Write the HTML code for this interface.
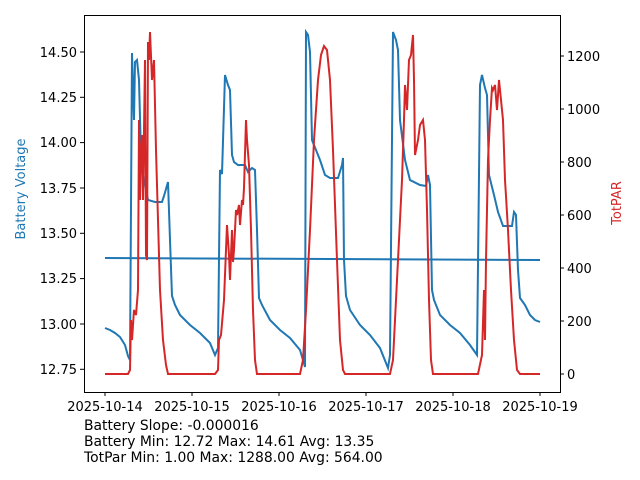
<!DOCTYPE html><html><head><style>body{margin:0;background:#fff}svg{display:block;font-family:"DejaVu Sans","Liberation Sans",sans-serif}</style></head><body>
<svg width="640" height="480" xmlns="http://www.w3.org/2000/svg">
<rect x="84.5" y="15.5" width="476" height="377" fill="none" stroke="#000" stroke-width="1"/>
<g font-size="13" fill="#000">
<g stroke="#000">
<line x1="80" y1="52" x2="84" y2="52"/><line x1="80" y1="97.3" x2="84" y2="97.3"/><line x1="80" y1="142.6" x2="84" y2="142.6"/><line x1="80" y1="188" x2="84" y2="188"/><line x1="80" y1="233.3" x2="84" y2="233.3"/><line x1="80" y1="278.6" x2="84" y2="278.6"/><line x1="80" y1="324" x2="84" y2="324"/><line x1="80" y1="369.3" x2="84" y2="369.3"/>
<line x1="560" y1="56" x2="564" y2="56"/><line x1="560" y1="109" x2="564" y2="109"/><line x1="560" y1="162" x2="564" y2="162"/><line x1="560" y1="215" x2="564" y2="215"/><line x1="560" y1="268" x2="564" y2="268"/><line x1="560" y1="321" x2="564" y2="321"/><line x1="560" y1="374" x2="564" y2="374"/>
<line x1="105" y1="392" x2="105" y2="396"/><line x1="192" y1="392" x2="192" y2="396"/><line x1="279" y1="392" x2="279" y2="396"/><line x1="366" y1="392" x2="366" y2="396"/><line x1="453" y1="392" x2="453" y2="396"/><line x1="540" y1="392" x2="540" y2="396"/>
</g>
<g text-anchor="end"><text x="77" y="57">14.50</text><text x="77" y="102">14.25</text><text x="77" y="147">14.00</text><text x="77" y="193">13.75</text><text x="77" y="238">13.50</text><text x="77" y="283">13.25</text><text x="77" y="329">13.00</text><text x="77" y="374">12.75</text></g>
<g><text x="567" y="61">1200</text><text x="567" y="114">1000</text><text x="567" y="167">800</text><text x="567" y="220">600</text><text x="567" y="273">400</text><text x="567" y="326">200</text><text x="567" y="379">0</text></g>
<g text-anchor="middle"><text x="105" y="411">2025-10-14</text><text x="192" y="411">2025-10-15</text><text x="279" y="411">2025-10-16</text><text x="366" y="411">2025-10-17</text><text x="453" y="411">2025-10-18</text><text x="540" y="411">2025-10-19</text></g>
<text transform="translate(25,189) rotate(-90)" text-anchor="middle" fill="#1f77b4">Battery Voltage</text>
<text transform="translate(621,203) rotate(-90)" text-anchor="middle" fill="#d62728">TotPAR</text>
<g font-size="13.9">
<text x="84" y="430">Battery Slope: -0.000016</text>
<text x="84" y="446">Battery Min: 12.72 Max: 14.61 Avg: 13.35</text>
<text x="84" y="462">TotPar Min: 1.00 Max: 1288.00 Avg: 564.00</text>
</g>
</g>
<line x1="105" y1="258" x2="540" y2="260" stroke="#1f77b4" stroke-width="2"/>
<polyline fill="none" stroke="#1f77b4" stroke-width="2" points="105,328 110,330 115,333 120,337 125,345 128,356 130,360 132,53 134,120 135,62 137,60 139,80 141,155 143,175 146,190 148,200 155,202 162,202 164,196 168,182 170,240 172,296 175,305 180,315 190,325 200,333 210,343 215,355 218,348 220,170 222,174 225,75 228,85 230,90 232,155 234,162 238,165 245,165 248,172 252,168 255,170 257,230 259,298 262,305 270,320 280,330 290,338 300,350 305,367 306,32 308,35 310,52 312,140 316,150 320,160 325,175 330,178 338,178 342,165 343,158 344,260 346,296 350,310 360,325 370,335 380,348 388,368 390,355 393,32 396,40 398,50 400,120 405,160 410,180 420,185 426,186 428,175 430,185 432,290 434,300 440,315 450,325 460,333 470,345 477,355 480,85 482,75 485,88 487,95 489,175 494,195 498,212 503,226 512,226 514,212 516,215 518,270 520,298 525,305 530,315 535,320 540,322"/>
<polyline fill="none" stroke="#d62728" stroke-width="2" points="105,374 128,374 130,370 131,320 132,340 134,310 136,315 138,290 139,120 140,200 141,150 142,135 143,200 145,60 146,255 147,260 148,42 149,60 150,32 152,80 154,60 156,150 158,220 160,290 163,340 166,365 168,374 215,374 218,370 219,340 221,335 224,300 227,225 229,255 230,280 232,230 233,262 234,250 236,210 237,215 239,205 240,225 242,200 243,205 244,188 246,120 247,140 249,165 251,230 253,310 255,360 257,374 300,374 303,360 306,310 310,230 314,140 318,80 321,55 324,46 327,50 330,80 333,150 337,260 340,340 343,370 345,374 390,374 393,360 396,300 399,240 402,180 404,120 405,85 407,110 409,60 411,55 413,35 414,80 415,155 418,140 420,125 423,120 425,140 427,210 429,300 431,360 433,374 478,374 482,355 484,290 485,340 486,260 488,160 490,120 492,88 493,90 495,85 497,110 499,80 501,100 503,120 505,180 506,196 508,230 511,290 514,340 517,370 520,374 540,374"/>
</svg></body></html>
